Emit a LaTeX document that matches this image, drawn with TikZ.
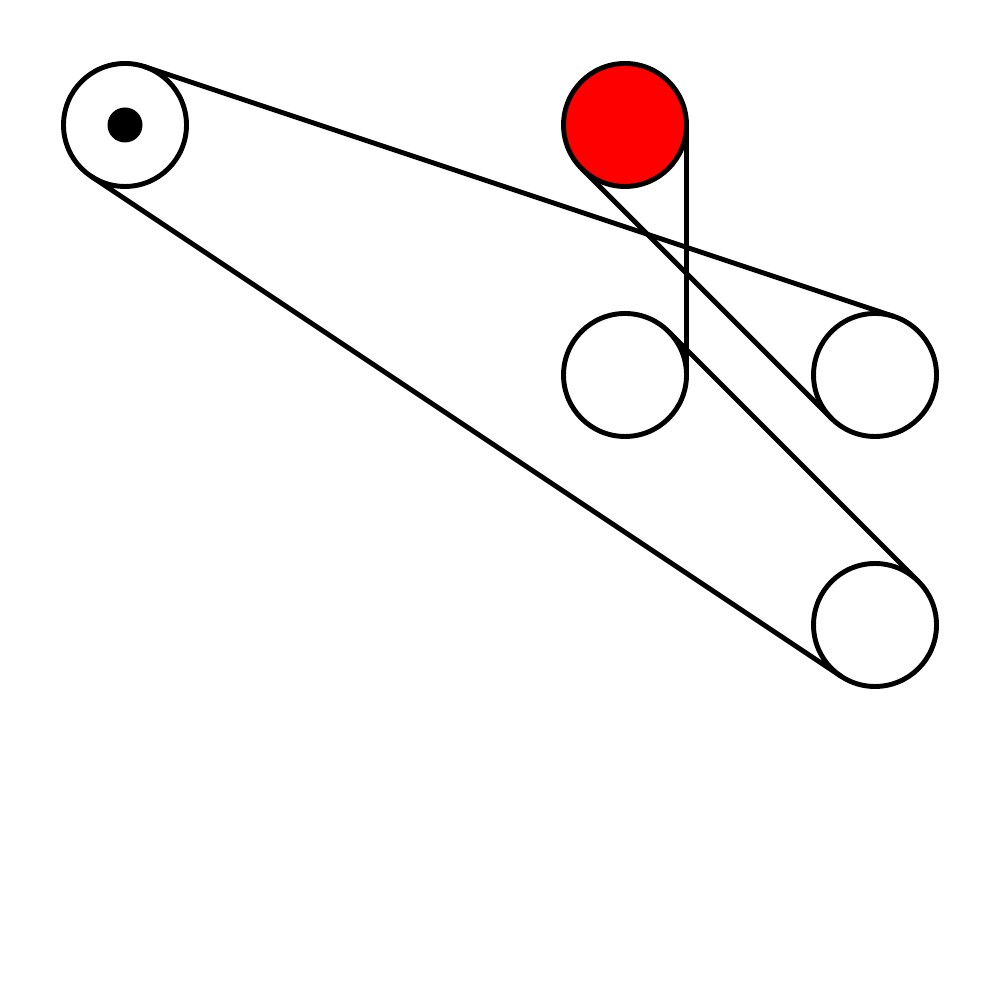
\documentclass[tikz,border=0pt]{standalone}
\usepackage{xcolor}
\usepackage{tikz}
\usetikzlibrary{calc}
\tikzset{
    pulley/.style={draw=black, circle, line width=1.4pt, minimum size=1.23cm, inner sep=0pt},
    belt/.style={line width=1.4pt, black}
}
\newcommand{\rad}{0.615cm}
\begin{document}
\begin{tikzpicture}
        \useasboundingbox (0,0) rectangle (10,10);
        % pulleys
        \node[pulley] (pa) at (1.25, 8.75) {};
        \node[pulley, fill=red] (pb) at (6.25, 8.75) {};
        \node[pulley] (pc) at (6.25, 6.25) {};
        \node[pulley] (pd) at (8.75, 6.25) {};
        \node[pulley] (pe) at (8.75, 3.75) {};
        % shaft
        \node[circle, fill=black, minimum size=0.35cm, inner sep=0pt] (shaft) at (pa) {};

        % belt
        \draw[belt] ($(pa)!\rad!90:(pd)$) -- ($(pd)!\rad!-90:(pa)$);
        \draw[belt] ($(pa)!\rad!-90:(pe)$) -- ($(pe)!\rad!90:(pa)$);
        \draw[belt] ($(pb)!\rad!-90:(pd)$) -- ($(pd)!\rad!90:(pb)$);
        \draw[belt] ($(pb)!\rad!90:(pc)$) -- ($(pc)!\rad!-90:(pb)$);
        \draw[belt] ($(pc)!\rad!90:(pe)$) -- ($(pe)!\rad!-90:(pc)$);
    \end{tikzpicture}
\end{document}
